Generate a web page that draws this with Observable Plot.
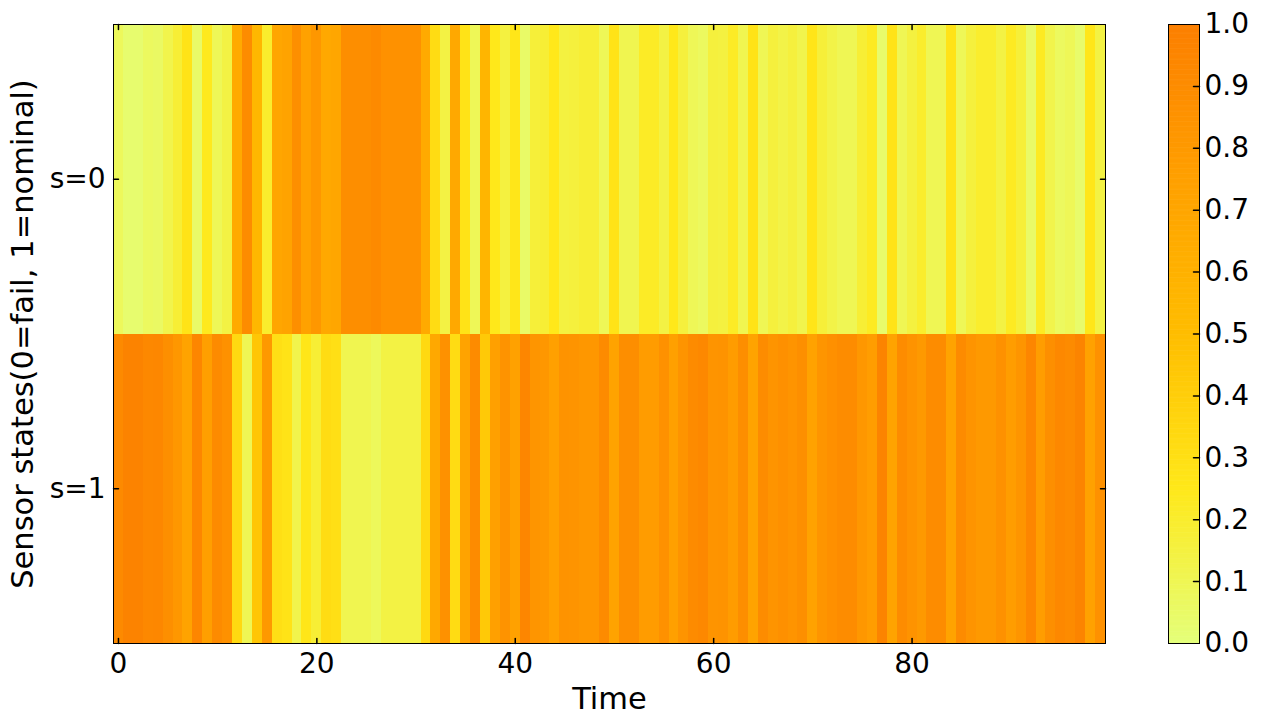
<!DOCTYPE html>
<html>
<head>
<meta charset="utf-8">
<script src="https://cdn.jsdelivr.net/npm/d3@7"></script>
<script src="https://cdn.jsdelivr.net/npm/@observablehq/plot@0.6"></script>
<style>
html, body { margin: 0; padding: 0; background: #fff; }
#chart { position: relative; width: 1261px; height: 724px; }
#chart svg { position: absolute; left: 0; top: 0; }
</style>
</head>
<body>
<div id="chart"></div>
<script>
// ---- data ----
const times = Array.from({length: 100}, (_, i) => i);
const states = ["s=0", "s=1"];
const xTicks = [0, 20, 40, 60, 80];
const cbTicks = [0, 0.1, 0.2, 0.3, 0.4, 0.5, 0.6, 0.7, 0.8, 0.9, 1.0];

// probability of s=0 (fail) at each time step
const s0 = [
  0.08, 0.03, 0.03, 0.07, 0.06, 0.12, 0.18, 0.28, 0.05, 0.24,
  0.09, 0.14, 0.66, 0.90, 0.55, 0.20, 0.70, 0.72, 0.88, 0.74,
  0.82, 0.68, 0.70, 0.89, 0.89, 0.89, 0.92, 0.86, 0.86, 0.86,
  0.86, 0.66, 0.32, 0.14, 0.68, 0.28, 0.09, 0.57, 0.25, 0.15,
  0.26, 0.05, 0.17, 0.18, 0.25, 0.15, 0.16, 0.18, 0.18, 0.09,
  0.28, 0.11, 0.11, 0.22, 0.22, 0.14, 0.25, 0.16, 0.09, 0.07,
  0.16, 0.15, 0.22, 0.11, 0.28, 0.10, 0.16, 0.13, 0.16, 0.12,
  0.27, 0.17, 0.13, 0.10, 0.10, 0.18, 0.23, 0.04, 0.28, 0.10,
  0.15, 0.20, 0.10, 0.10, 0.28, 0.09, 0.16, 0.20, 0.20, 0.14,
  0.23, 0.17, 0.05, 0.23, 0.12, 0.07, 0.09, 0.04, 0.26, 0.14
];
// probability of s=1 (nominal) at each time step
const s1 = [
  0.92, 0.97, 0.97, 0.93, 0.94, 0.88, 0.82, 0.72, 0.95, 0.76,
  0.91, 0.86, 0.34, 0.10, 0.45, 0.80, 0.30, 0.28, 0.12, 0.26,
  0.18, 0.32, 0.30, 0.11, 0.11, 0.11, 0.08, 0.14, 0.14, 0.14,
  0.14, 0.34, 0.68, 0.86, 0.32, 0.72, 0.91, 0.43, 0.75, 0.85,
  0.74, 0.95, 0.83, 0.82, 0.75, 0.85, 0.84, 0.82, 0.82, 0.91,
  0.72, 0.89, 0.89, 0.78, 0.78, 0.86, 0.75, 0.84, 0.91, 0.93,
  0.84, 0.85, 0.78, 0.89, 0.72, 0.90, 0.84, 0.87, 0.84, 0.88,
  0.73, 0.83, 0.87, 0.90, 0.90, 0.82, 0.77, 0.96, 0.72, 0.90,
  0.85, 0.80, 0.90, 0.90, 0.72, 0.91, 0.84, 0.80, 0.80, 0.86,
  0.77, 0.83, 0.95, 0.77, 0.88, 0.93, 0.91, 0.96, 0.74, 0.86
];

// matplotlib "Wistia" colormap anchors
const wistia = ["#e4ff7a", "#ffe81a", "#ffbd00", "#ffa000", "#fc7f00"];

// ---- build ----
const cells = times.flatMap(t => [
  {t, s: states[0], v: s0[t]},
  {t, s: states[1], v: s1[t]}
]);

const colorOpts = {type: "linear", domain: [0, 1], interpolate: d3.piecewise(d3.interpolateRgb, wistia)};
const tickShape = {draw(ctx, l) { ctx.moveTo(0, 0); ctx.lineTo(0, -l); }};
const font = "DejaVu Sans";
const tickFont = 28;
const labelFont = 30.5;

const main = Plot.plot({
  width: 1261, height: 724,
  marginLeft: 113, marginRight: 156, marginTop: 24, marginBottom: 81,
  style: {fontFamily: font, fontSize: "28px", background: "white", color: "black", overflow: "visible"},
  x: {type: "band", domain: times, padding: 0, round: false, axis: null},
  y: {type: "band", domain: states, padding: 0, round: false, axis: null},
  color: colorOpts,
  marks: [
    Plot.cell(cells, {x: "t", y: "s", fill: "v", inset: 0, shapeRendering: "crispEdges"}),
    Plot.frame({stroke: "black", strokeWidth: 1}),
    Plot.text(xTicks, {x: d => d, text: d => String(d), frameAnchor: "bottom", dy: 10, lineAnchor: "top", textAnchor: "middle", fontSize: tickFont}),
    Plot.text(states, {y: d => d, text: d => d, frameAnchor: "left", dx: -8, lineAnchor: "middle", textAnchor: "end", fontSize: tickFont}),
    Plot.vector(xTicks, {x: d => d, frameAnchor: "bottom", rotate: 0, length: 5, anchor: "start", shape: tickShape, stroke: "black"}),
    Plot.vector(xTicks, {x: d => d, frameAnchor: "top", rotate: 180, length: 5, anchor: "start", shape: tickShape, stroke: "black"}),
    Plot.vector(states, {y: d => d, frameAnchor: "left", rotate: 90, length: 5, anchor: "start", shape: tickShape, stroke: "black"}),
    Plot.vector(states, {y: d => d, frameAnchor: "right", rotate: -90, length: 5, anchor: "start", shape: tickShape, stroke: "black"}),
    Plot.text(["Time"], {text: d => d, frameAnchor: "bottom", dy: 56, fontSize: labelFont, lineAnchor: "middle", textAnchor: "middle"}),
    Plot.text(["Sensor states(0=fail, 1=nominal)"], {text: d => d, frameAnchor: "left", dx: -90, rotate: -90, fontSize: labelFont, lineAnchor: "middle", textAnchor: "middle"})
  ]
});

// colorbar
const step = 0.002;
const gradient = d3.range(0, 1, step);
const cb = Plot.plot({
  width: 1261, height: 724,
  marginLeft: 1168, marginRight: 62, marginTop: 24, marginBottom: 81,
  style: {fontFamily: font, fontSize: "28px", background: "none", color: "black", overflow: "visible"},
  x: {domain: [0, 1], axis: null},
  y: {domain: [0, 1], axis: null},
  color: colorOpts,
  marks: [
    Plot.rect(gradient, {x1: 0, x2: 1, y1: d => d, y2: d => Math.min(1, d + step * 1.5), fill: d => d + step / 2}),
    Plot.frame({stroke: "black", strokeWidth: 1}),
    Plot.text(cbTicks, {y: d => d, text: d => d.toFixed(1), frameAnchor: "right", dx: 5, lineAnchor: "middle", textAnchor: "start", fontSize: tickFont}),
    Plot.vector(cbTicks.slice(1, -1), {y: d => d, frameAnchor: "right", rotate: -90, length: 6, anchor: "start", shape: tickShape, stroke: "black"})
  ]
});

const chart = document.getElementById("chart");
chart.appendChild(main);
chart.appendChild(cb);
</script>
</body>
</html>
